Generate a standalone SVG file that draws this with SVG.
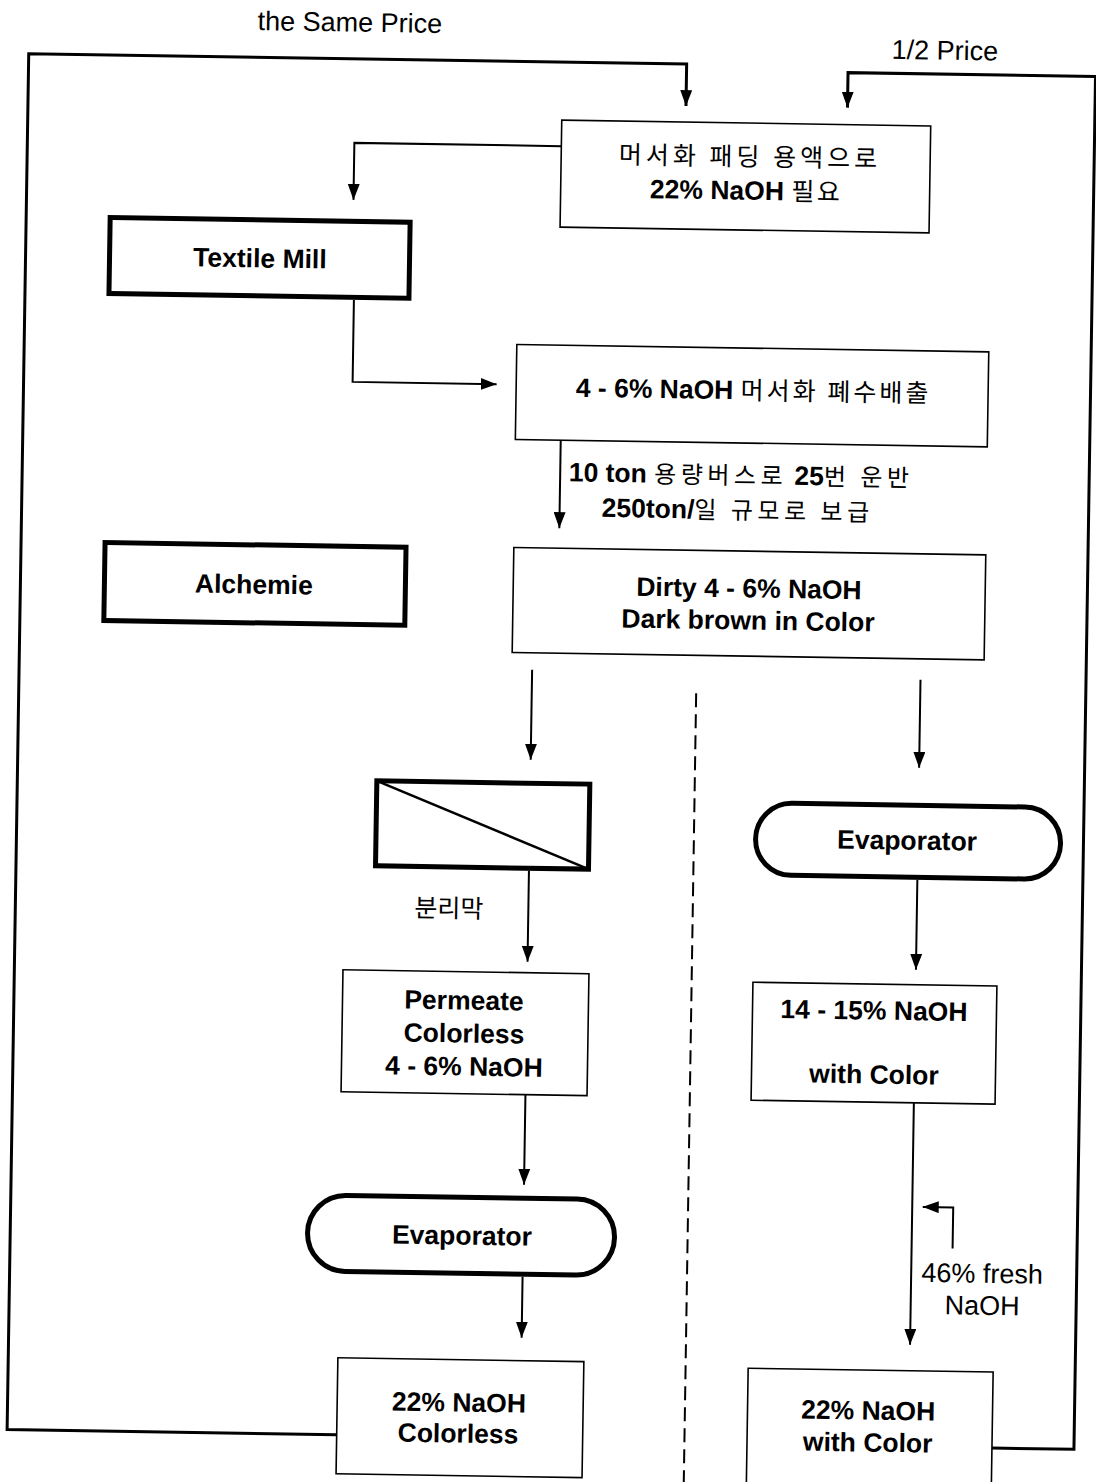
<svg xmlns="http://www.w3.org/2000/svg" width="1096" height="1482" viewBox="0 0 1096 1482">
<style>
.thin{fill:#fff;stroke:#000;stroke-width:1.6}
.thick{fill:#fff;stroke:#000;stroke-width:5}
.conn{fill:none;stroke:#000;stroke-width:2}
.loop{fill:none;stroke:#000;stroke-width:3}
.b{font-family:"Liberation Sans","Noto Sans CJK KR",sans-serif;font-weight:bold;font-size:26.5px;text-anchor:middle;fill:#000}
.r{font-family:"Liberation Sans","Noto Sans CJK KR",sans-serif;font-weight:normal;font-size:27px;text-anchor:middle;fill:#000}
.k{font-family:"Noto Sans CJK KR",sans-serif;font-weight:normal;font-size:25px}
.ks{font-family:"Noto Sans CJK KR",sans-serif;font-weight:normal;font-size:24px}
</style>
<defs>
<marker id="ah" markerUnits="userSpaceOnUse" markerWidth="16" markerHeight="12" refX="16" refY="6" orient="auto">
<path d="M0,0 L16,6 L0,12 z" fill="#000"/>
</marker>
</defs>
<rect width="1096" height="1482" fill="#fff"/>
<g transform="rotate(0.9 548 741)">
<g id="connectors">
<path class="loop" d="M347.6,1438 H18 V62 H676 V104" marker-end="url(#ah)"/>
<path class="loop" d="M1003,1441 H1085 V68 H837.5 V103" marker-end="url(#ah)"/>
<path class="conn" d="M552,146 H345 V203" marker-end="url(#ah)"/>
<path class="conn" d="M347,303 V385 H491" marker-end="url(#ah)"/>
<path class="conn" d="M556,440 V528" marker-end="url(#ah)"/>
<path class="conn" d="M531,670 V760" marker-end="url(#ah)"/>
<path class="conn" d="M919.5,674 V762" marker-end="url(#ah)"/>
<path class="conn" d="M531,871 V962" marker-end="url(#ah)"/>
<path class="conn" d="M531,1095 V1185" marker-end="url(#ah)"/>
<path class="conn" d="M531,1277 V1338" marker-end="url(#ah)"/>
<path class="conn" d="M919.5,874 V964" marker-end="url(#ah)"/>
<path class="conn" d="M919.5,1097 V1339" marker-end="url(#ah)"/>
<path class="conn" d="M960.5,1242 V1201 H930" marker-end="url(#ah)"/>
<path class="conn" d="M695.4,691 V1500" stroke-dasharray="14 7"/>
</g>
<text class="r" x="338.7" y="34.7">the Same Price</text>
<text class="r" x="934" y="53.5">1/2 Price</text>
<text class="b" x="737" y="481">10 ton <tspan class="ks" letter-spacing="4.5">용량버스로</tspan> 25<tspan class="ks" letter-spacing="4.5">번 운반</tspan></text>
<text class="b" x="734" y="516">250ton/<tspan class="ks" letter-spacing="4.5">일 규모로 보급</tspan></text>
<text class="r" x="990.4" y="1275.9">46% fresh</text>
<text class="r" x="990.9" y="1307.9">NaOH</text>
<g id="box-padding">
<rect class="thin" x="552" y="120" width="369" height="107"/>
<text class="b" x="740.8" y="162.5"><tspan class="k" letter-spacing="4">머서화 패딩 용액으로</tspan></text>
<text class="b" x="737.5" y="196.6">22% NaOH <tspan class="k" letter-spacing="2.5">필요</tspan></text>
</g>
<g id="textile-mill">
<rect class="thick" x="102" y="224.5" width="300" height="76"/>
<text class="b" x="252.4" y="272">Textile Mill</text>
</g>
<g id="box-waste">
<rect class="thin" x="510.6" y="345" width="472" height="95"/>
<text class="b" x="748" y="396.3">4 - 6% NaOH <tspan class="k" letter-spacing="3">머서화 폐수배출</tspan></text>
</g>
<g id="alchemie">
<rect class="thick" x="102" y="549.5" width="301" height="78"/>
<text class="b" x="251.5" y="598.1">Alchemie</text>
</g>
<g id="box-dirty">
<rect class="thin" x="510.8" y="548" width="472" height="105"/>
<text class="b" x="746.6" y="594.3">Dirty 4 - 6% NaOH</text>
<text class="b" x="746.1" y="626.4">Dark brown in Color</text>
</g>
<g id="membrane">
<rect class="thick" x="377.5" y="783.5" width="213" height="85"/>
<path d="M377.5,783.5 L590.5,868.5" stroke="#000" stroke-width="2.5" fill="none"/>
<text class="b" x="451.6" y="918.8"><tspan class="k">분리막</tspan></text>
</g>
<g id="box-permeate">
<rect class="thin" x="346.6" y="973" width="246" height="122"/>
<text class="b" x="468.1" y="1010.8">Permeate</text>
<text class="b" x="468.6" y="1043.8">Colorless</text>
<text class="b" x="469.1" y="1076.8">4 - 6% NaOH</text>
</g>
<g id="evaporator-left">
<rect class="thick" x="315.3" y="1198.5" width="307" height="76" rx="38" ry="38"/>
<text class="b" x="469.8" y="1245.9">Evaporator</text>
</g>
<g id="box-colorless">
<rect class="thin" x="347.6" y="1361" width="246" height="116"/>
<text class="b" x="469.4" y="1412.9">22% NaOH</text>
<text class="b" x="468.9" y="1443.9">Colorless</text>
</g>
<g id="evaporator-right">
<rect class="thick" x="757.1" y="799.5" width="305" height="72" rx="36" ry="36"/>
<text class="b" x="908.6" y="843.9">Evaporator</text>
</g>
<g id="box-14-15">
<rect class="thin" x="756.7" y="979" width="244" height="118"/>
<text class="b" x="878.2" y="1014.4">14 - 15% NaOH</text>
<text class="b" x="879.2" y="1078.4">with Color</text>
</g>
<g id="box-with-color">
<rect class="thin" x="758" y="1365" width="245" height="140"/>
<text class="b" x="878.7" y="1414.5">22% NaOH</text>
<text class="b" x="878.7" y="1446.5">with Color</text>
</g>
</g>
</svg>
